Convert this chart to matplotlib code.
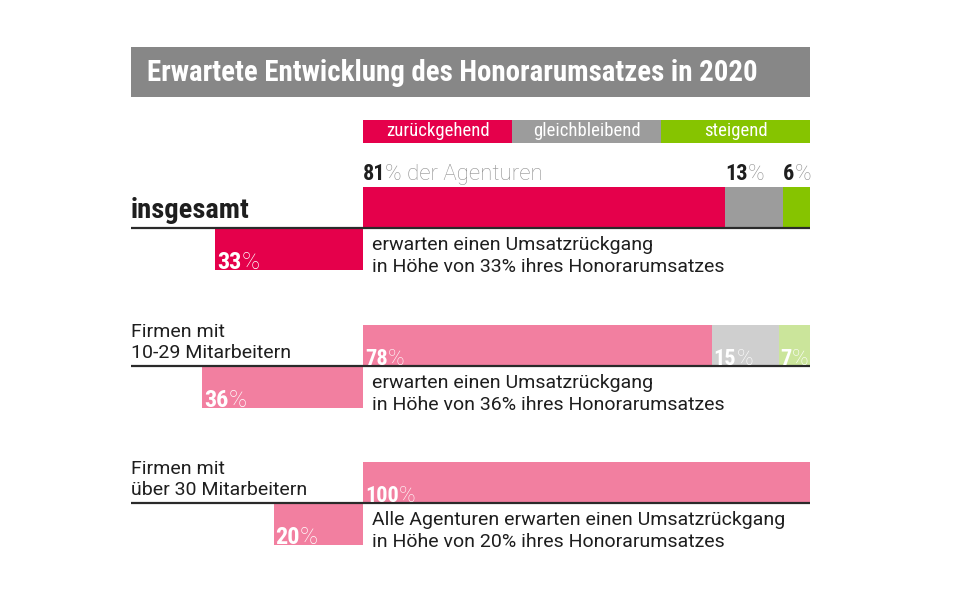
import matplotlib.pyplot as plt
from matplotlib.patches import Rectangle

plt.rcParams['font.family'] = ['Roboto', 'DejaVu Sans']
COND = ['Roboto Condensed', 'DejaVu Sans']

# data
title = 'Erwartete Entwicklung des Honorarumsatzes in 2020'
categories = ['zurückgehend', 'gleichbleibend', 'steigend']
groups = ['insgesamt', 'Firmen mit\n10-29 Mitarbeitern', 'Firmen mit\nüber 30 Mitarbeitern']
falling = [81, 78, 100]
steady = [13, 15, 0]
rising = [6, 7, 0]
decline = [33, 36, 20]
notes = ['erwarten einen Umsatzrückgang\nin Höhe von 33% ihres Honorarumsatzes',
         'erwarten einen Umsatzrückgang\nin Höhe von 36% ihres Honorarumsatzes',
         'Alle Agenturen erwarten einen Umsatzrückgang\nin Höhe von 20% ihres Honorarumsatzes']

# colours
strong = ['#e5004b', '#9c9c9c', '#86c400']
light = ['#f27fa0', '#cfcfcf', '#cbe59b']
dark = '#1e1e1e'

W, H = 954, 593
X0, SCALE = 363, 4.47          # pixel of 0 %, pixels per percent


def px(x):
    return (x - X0) / SCALE


fig = plt.figure(figsize=(W / 100, H / 100), dpi=100)
ax = fig.add_axes([0, 0, 1, 1])
ax.set_xlim(px(0), px(W))
ax.set_ylim(H, 0)
ax.axis('off')

# title bar
ax.add_patch(Rectangle((px(131), 47), px(810) - px(131), 50, color='#878787', lw=0))
ax.text(px(147), 73, title, color='white', weight='bold', fontsize=20.8, va='center', ha='left',
        family=COND)

# legend
ax.barh([131] * 3, [100 / 3] * 3, left=[0, 100 / 3, 200 / 3], height=23, color=strong, lw=0)
for i, cat in enumerate(categories):
    ax.text(100 / 3 * (i + 0.5), 131, cat, color='white', fontsize=13.5, ha='center',
            va='center', family=COND)


def num_pct(x, y, num, rest, c_num, c_rest, size):
    t = ax.text(x, y, num, color=c_num, weight='bold', fontsize=size, ha='left', va='bottom',
                family=COND)
    ax.annotate(rest, xy=(1, 0), xycoords=t, color=c_rest, weight='light', fontsize=size,
                ha='left', va='bottom')


bar_tops = [187, 325, 462]
bar_h = 41
low_h = 42

for i, top in enumerate(bar_tops):
    first = i == 0
    cols = strong if first else light
    yc = top + bar_h / 2
    vals = [falling[i], steady[i], rising[i]]
    lefts = [0, falling[i], falling[i] + steady[i]]
    ax.barh([yc] * 3, vals, left=lefts, height=bar_h, color=cols, lw=0)

    base = top + bar_h
    ax.plot([px(131), 100], [base, base], color='#2a2a2a', lw=1.6, solid_capstyle='butt')

    # lower bar: expected decline
    ax.barh(base + low_h / 2, -decline[i], left=0, height=low_h, color=cols[0], lw=0)
    num_pct(-decline[i] + px(X0 + 2), base + low_h + 4, str(decline[i]), '%',
            'white', 'white', 17.5)
    ax.text(px(372), base + 28, notes[i], color=dark, fontsize=14, ha='left', va='center',
            linespacing=1.22)

    if first:
        ax.text(px(131), base - 4, groups[i], color=dark, weight='bold', fontsize=20.5,
                ha='left', va='bottom', family=COND)
        num_pct(0, top - 2, str(vals[0]), '% der Agenturen', dark, '#909090', 16)
        for v, l in zip(vals[1:], lefts[1:]):
            if v:
                num_pct(l, top - 2, str(v), '%', dark, '#909090', 16)
    else:
        ax.text(px(131), base - 4, groups[i], color=dark, fontsize=14, ha='left', va='bottom',
                linespacing=1.22)
        for v, l in zip(vals, lefts):
            if v:
                num_pct(l + px(X0 + 2), base + 4, str(v), '%', 'white', 'white', 16)

fig.savefig('out.png', dpi=100)
